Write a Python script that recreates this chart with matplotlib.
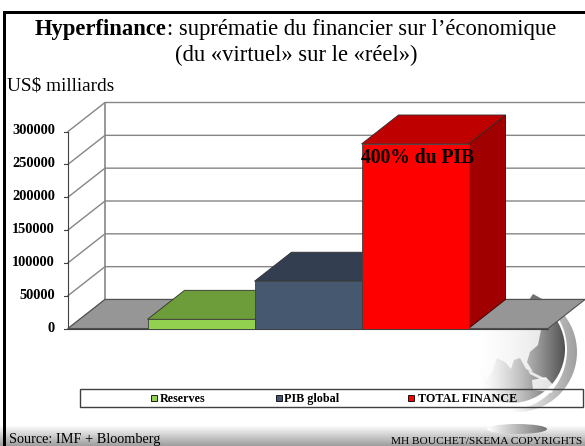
import numpy as np
import matplotlib
matplotlib.use('Agg')
import matplotlib.pyplot as plt
from matplotlib.patches import Polygon, Circle, Ellipse, Rectangle

plt.rcParams['font.family'] = ['Liberation Serif', 'DejaVu Serif']

categories = ['Reserves', 'PIB global', 'TOTAL FINANCE']
values = [14000, 72000, 281000]
ticks = [0, 50000, 100000, 150000, 200000, 250000, 300000]
front = ['#92d050', '#465870', '#ff0000']
top = ['#6d9c3a', '#333f50', '#bf0000']
side = ['#5a7f30', '#2b3644', '#a00000']

# pixel layout of the 3d box
Y0 = 328.5
Y300 = 131.5
DX = 37
DY = -29
LEFT = 68
RIGHT = 548
BAR_X = 147.5
BAR_W = 107


def py(v):
    return Y0 + (Y300 - Y0) * v / 300000


fig = plt.figure(figsize=(5.85, 4.46), dpi=100)
ax = fig.add_axes([0, 0, 1, 1])
ax.set_xlim(0, 585)
ax.set_ylim(446, 0)
ax.axis('off')

# bottom band of the slide
band = np.linspace(1, 0.62, 30).reshape(-1, 1)
ax.imshow(band, extent=(0, 585, 446, 425), cmap='gray', vmin=0, vmax=1, aspect='auto', zorder=0)

# globe in the corner
xx, yy = np.meshgrid(np.linspace(0, 1, 200), np.linspace(0, 1, 200))
ring_grad = 1 - 0.38 * np.clip((xx - 0.45) / 0.55, 0, 1)
ring = ax.imshow(ring_grad, extent=(457, 577, 412, 292), cmap='gray', vmin=0, vmax=1, aspect='auto', zorder=1)
ring.set_clip_path(Circle((517, 352), 60, transform=ax.transData))
ax.add_patch(Ellipse((512, 350), 110, 118, fc='white', ec='none', zorder=1.1))
grad = 1 - 0.68 * np.clip((xx - 0.2) / 0.8, 0, 1) ** 1.4
globe = ax.imshow(grad, extent=(457, 565, 403, 295), cmap='gray', vmin=0, vmax=1, aspect='auto', zorder=1.2)
globe.set_clip_path(Circle((511, 349), 54, transform=ax.transData))
asia = [[450, 325], [542, 325], [538, 345], [530, 352], [527, 362], [533, 372], [526, 369], [520, 358],
        [514, 360], [511, 369], [505, 362], [497, 358], [492, 372], [487, 379], [478, 362], [470, 358], [450, 358]]
aus = [[532, 380], [546, 377], [554, 386], [552, 393], [542, 391], [533, 390]]
islands = [[528, 370], [540, 376], [548, 380], [540, 379], [530, 374]]
for pts in (asia, aus, islands):
    ax.add_patch(Polygon(pts, fc='white', ec='none', alpha=0.8, zorder=1.3))
shadow = np.linspace(1, 0.45, 100).reshape(1, -1)
sh = ax.imshow(shadow, extent=(487, 547, 434, 424), cmap='gray', vmin=0, vmax=1, aspect='auto', zorder=1.4)
sh.set_clip_path(Ellipse((517, 429), 60, 10, transform=ax.transData))
# only the tip of the globe shows above the floor
ax.add_patch(Rectangle((440, 280), 145, 20, fc='white', ec='none', zorder=1.5))
ax.add_patch(Polygon([[533, 294], [544, 300], [529, 300]], fc='#707070', ec='none', zorder=1.6))

# walls and floor
grid_c = '#868686'
for t in ticks:
    y = py(t)
    ax.plot([LEFT, LEFT + DX, 585], [y, y + DY, y + DY], color=grid_c, lw=1, zorder=2)
    ax.plot([LEFT - 4, LEFT], [y, y], color='#404040', lw=0.8, zorder=2)
    ax.text(55, y - 0.5, str(t), ha='right', va='center', fontsize=10.4, fontweight='bold', zorder=6)
ax.plot([LEFT, LEFT], [py(0), py(300000)], color='#404040', lw=0.8, zorder=2)
ax.plot([LEFT + DX] * 2, [py(0) + DY, py(300000) + DY], color=grid_c, lw=1.2, zorder=2)
ax.add_patch(Polygon([[LEFT, Y0], [LEFT + DX, Y0 + DY], [585, Y0 + DY], [RIGHT, Y0]],
                     fc='#969696', ec='#505050', lw=0.8, zorder=3))
ax.plot([LEFT, RIGHT], [Y0, Y0], color='#404040', lw=0.8, zorder=3)

# bars, back to front so the neighbours overlap right
for i, v in enumerate(values):
    x0 = BAR_X + i * BAR_W
    x1 = x0 + BAR_W
    y = py(v)
    z = 4 + i * 0.1
    ax.add_patch(Polygon([[x1, Y0], [x1 + DX, Y0 + DY], [x1 + DX, y + DY], [x1, y]],
                         fc=side[i], ec='#3a0000' if i == 2 else 'none', lw=0.6, zorder=z))
    ax.add_patch(Polygon([[x0, y], [x0 + DX, y + DY], [x1 + DX, y + DY], [x1, y]],
                         fc=top[i], ec='#303030', lw=0.6, zorder=z))
    ax.add_patch(Rectangle((x0, y), BAR_W, Y0 - y, fc=front[i], ec='#404040', lw=0.6, zorder=z))

ax.text(361, 163, '400% du PIB', ha='left', va='baseline', fontsize=14.1, fontweight='bold', zorder=7)

# legend box
ax.add_patch(Rectangle((80, 389), 503, 18, fc='none', ec='#404040', lw=1, zorder=5))
legend_x = [150.5, 275.5, 407.5]
text_x = [160, 284, 418]
for i, name in enumerate(categories):
    ax.add_patch(Rectangle((legend_x[i], 395), 6, 6, fc=front[i], ec='black', lw=0.6, zorder=6))
    ax.text(text_x[i], 402, name, ha='left', va='baseline', fontsize=8.7, fontweight='bold', zorder=6)

# title and other text
t1 = ax.text(35, 35, 'Hyperfinance', ha='left', va='baseline', fontsize=16.3, fontweight='bold')
ax.annotate(': suprématie du financier sur l\u2019économique', xy=(1, 0), xycoords=t1,
            ha='left', va='bottom', fontsize=16.3)
ax.text(296.5, 61, '(du «virtuel» sur le «réel»)', ha='center', va='baseline', fontsize=16.3)
ax.text(7, 91, 'US$ milliards', ha='left', va='baseline', fontsize=13.9)
ax.text(9, 443, 'Source: IMF + Bloomberg', ha='left', va='baseline', fontsize=10.3)
ax.text(582, 444, 'MH BOUCHET/SKEMA COPYRIGHTS', ha='right', va='baseline', fontsize=8.2)

# slide frame
ax.add_patch(Rectangle((3, 10.5), 700, 3, fc='black', ec='none', zorder=8))
ax.add_patch(Rectangle((3, 10.5), 3, 440, fc='black', ec='none', zorder=8))

ax.set_xlim(0, 585)
ax.set_ylim(446, 0)
fig.savefig('out.png', dpi=100)
